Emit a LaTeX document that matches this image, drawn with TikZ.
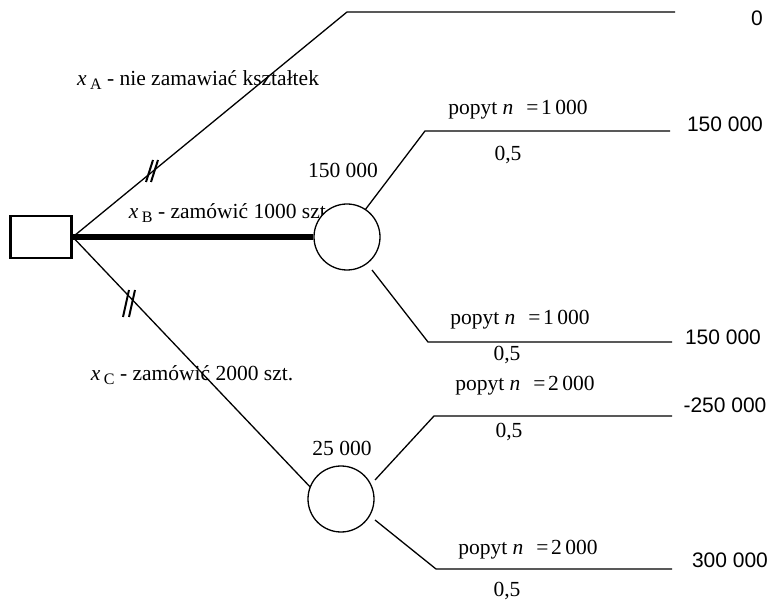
\documentclass[tikz,border=0pt]{standalone}
\usepackage{fontspec}
\setmainfont{Liberation Serif}
\newfontfamily\arialf{Liberation Sans}
\newcommand{\subl}[1]{\raisebox{-0.35ex}{\fontsize{16}{16}\selectfont #1}}
\newcommand{\popyt}[1]{popyt \textit{n}\hspace{0.6em}=\hspace{0.12em}#1}
\begin{document}
\begin{tikzpicture}[x=1pt,y=-1pt,
  lbl/.style={font=\fontsize{21.5}{23}\selectfont, inner sep=0pt},
  val/.style={font=\arialf\fontsize{21}{23}\selectfont, inner sep=0pt},
  ln/.style={line width=1.3pt},
  slash/.style={line width=2pt},
  chance/.style={circle, draw, fill=white, line width=1.3pt, minimum size=66pt, inner sep=0pt}]
\useasboundingbox (0,0) rectangle (774,601);

% decision node
\node[draw, line width=2.5pt, minimum width=61pt, minimum height=42pt, inner sep=0pt] (dec) at (41,237) {};

% coordinates
\coordinate (a1) at (347,12);
\coordinate (a2) at (675,12);
\coordinate (b1) at (425,131);
\coordinate (b2) at (670,131);
\coordinate (b3) at (428,342);
\coordinate (b4) at (672,342);
\coordinate (c1) at (434,416);
\coordinate (c2) at (672,416);
\coordinate (c3) at (436,569);
\coordinate (c4) at (672,569);
\coordinate (bS1) at (365,210);
\coordinate (bS2) at (372,270);
\coordinate (cS1) at (375,480);
\coordinate (cS2) at (375,520);
\coordinate (cIn) at (313,490);

% texts under lines
\node[lbl] (tA) at (198,80) {\textit{x}\,\subl{A} - nie zamawiać kształtek};
\node[lbl] (tB) at (230,213) {\textit{x}\,\subl{B} - zamówić 1000 szt.};
\node[lbl] (tC) at (192,375) {\textit{x}\,\subl{C} - zamówić 2000 szt.};

% branches
\draw[ln] (dec.east) -- (a1) -- (a2);
\draw[ln] (dec.east) -- (cIn);
\draw[line width=6pt] (dec.east) -- (313,237);
\draw[ln] (bS1) -- (b1) -- (b2);
\draw[ln] (bS2) -- (b3) -- (b4);
\draw[ln] (cS1) -- (c1) -- (c2);
\draw[ln] (cS2) -- (c3) -- (c4);

% chance nodes
\node[chance] (cB) at (347,237) {};
\node[chance] (cC) at (341,499) {};

% blocked marks
\draw[slash] (146,182) -- (153,160);
\draw[slash] (151,182) -- (158,160);
\draw[slash] (123,317) -- (129,290);
\draw[slash] (129,317) -- (135,290);

% expected values
\node[lbl] (eB) at (343,170) {150 000};
\node[lbl] (eC) at (342,448) {25 000};

% branch labels
\node[lbl] (p1) at (518,110) {\popyt{1\,000}};
\node[lbl] (q1) at (508,155) {0,5};
\node[lbl] (p2) at (520,320) {\popyt{1\,000}};
\node[lbl] (q2) at (507,355) {0,5};
\node[lbl] (p3) at (525,386) {\popyt{2\,000}};
\node[lbl] (q3) at (509,432) {0,5};
\node[lbl] (p4) at (528,550) {\popyt{2\,000}};
\node[lbl] (q4) at (507,591) {0,5};

% payoffs
\node[val] (v0) at (757,18) {0};
\node[val] (v1) at (725,124) {150 000};
\node[val] (v2) at (723,337) {150 000};
\node[val] (v3) at (725,405) {-250 000};
\node[val] (v4) at (730,560) {300 000};
\end{tikzpicture}
\end{document}
